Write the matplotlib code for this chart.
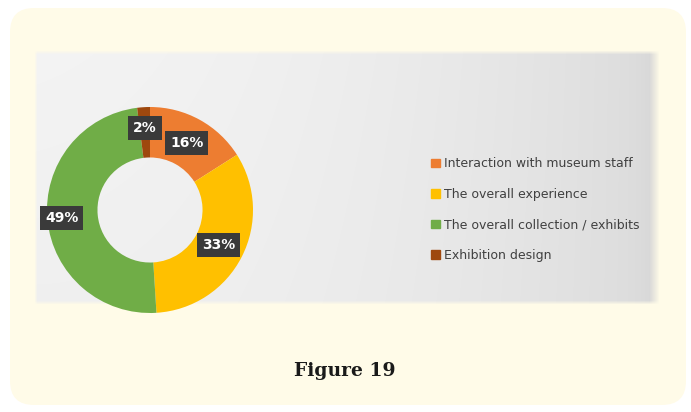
import numpy as np
import matplotlib.pyplot as plt
import matplotlib.patches as mpatches

categories = ["Interaction with museum staff", "The overall experience",
              "The overall collection / exhibits", "Exhibition design"]
shares = [16, 33, 49, 2]
colors = ["#ED7D31", "#FFC000", "#70AD47", "#9E480E"]
label_r = [0.74, 0.75, 0.86, 0.80]

W, H = 691, 412
fig = plt.figure(figsize=(W / 100, H / 100), dpi=100)
fig.patch.set_facecolor("white")

# background canvas in pixel coordinates
bg = fig.add_axes([0, 0, 1, 1])
bg.set_xlim(0, W)
bg.set_ylim(H, 0)
bg.axis("off")
bg.add_patch(mpatches.FancyBboxPatch((10, 8), 676, 397, boxstyle="round,pad=0,rounding_size=24",
                                     fc="#FFFBE8", ec="none"))

# soft grey gradient panel
px0, px1, py0, py1 = 34, 660, 50, 305
nx, ny = px1 - px0, py1 - py0
xx = np.linspace(0, 1, nx)[None, :]
yy = np.linspace(0, 1, ny)[:, None]
grey = 0.94 - 0.08 * xx ** 2.2 + 0.015 * (1 - yy) * (1 - xx)
grey = np.clip(grey - 0.03 * np.exp(-((1 - xx) * nx) / 12), 0, 1)
img = np.dstack([grey * np.ones_like(yy)] * 3 + [np.ones((ny, nx))])
fade = np.minimum(np.clip((1 - xx) * nx / 10, 0, 1), np.clip(xx * nx / 3, 0, 1))
fade = fade * np.minimum(np.clip(yy * ny / 4, 0, 1), np.clip((1 - yy) * ny / 4, 0, 1))
img[..., 3] = fade
bg.imshow(img, extent=[px0, px1, py1, py0], aspect="auto", interpolation="bilinear", zorder=1)
bg.set_xlim(0, W)
bg.set_ylim(H, 0)

bg.text(345, 371, "Figure 19", ha="center", va="center", fontsize=13.5, fontweight="bold",
        family="DejaVu Serif", color="#1a1a1a")

# donut
cx, cy, r = 150, 210, 103
ax = fig.add_axes([(cx - r) / W, (H - cy - r) / H, 2 * r / W, 2 * r / H])
wedges, _ = ax.pie(shares, colors=colors, startangle=90, counterclock=False, radius=1,
                   wedgeprops=dict(width=0.49, edgecolor="none"))
ax.set_xlim(-1, 1)
ax.set_ylim(-1, 1)
ax.axis("off")

for w, s, lr in zip(wedges, shares, label_r):
    ang = np.deg2rad((w.theta1 + w.theta2) / 2)
    ax.text(lr * np.cos(ang), lr * np.sin(ang), f"{s}%", ha="center", va="center",
            fontsize=10, fontweight="bold", color="white", zorder=5,
            bbox=dict(boxstyle="square,pad=0.35", fc="#3A3A3A", ec="none"))

handles = [mpatches.Patch(color=c, label=l) for c, l in zip(colors, categories)]
fig.legend(handles=handles, loc="upper left", bbox_to_anchor=(420 / W, 1 - 146 / H),
           frameon=False, fontsize=9, labelcolor="#404040", handlelength=0.7,
           handleheight=0.7, handletextpad=0.3, labelspacing=1.4)

fig.savefig("out.png", dpi=100)
